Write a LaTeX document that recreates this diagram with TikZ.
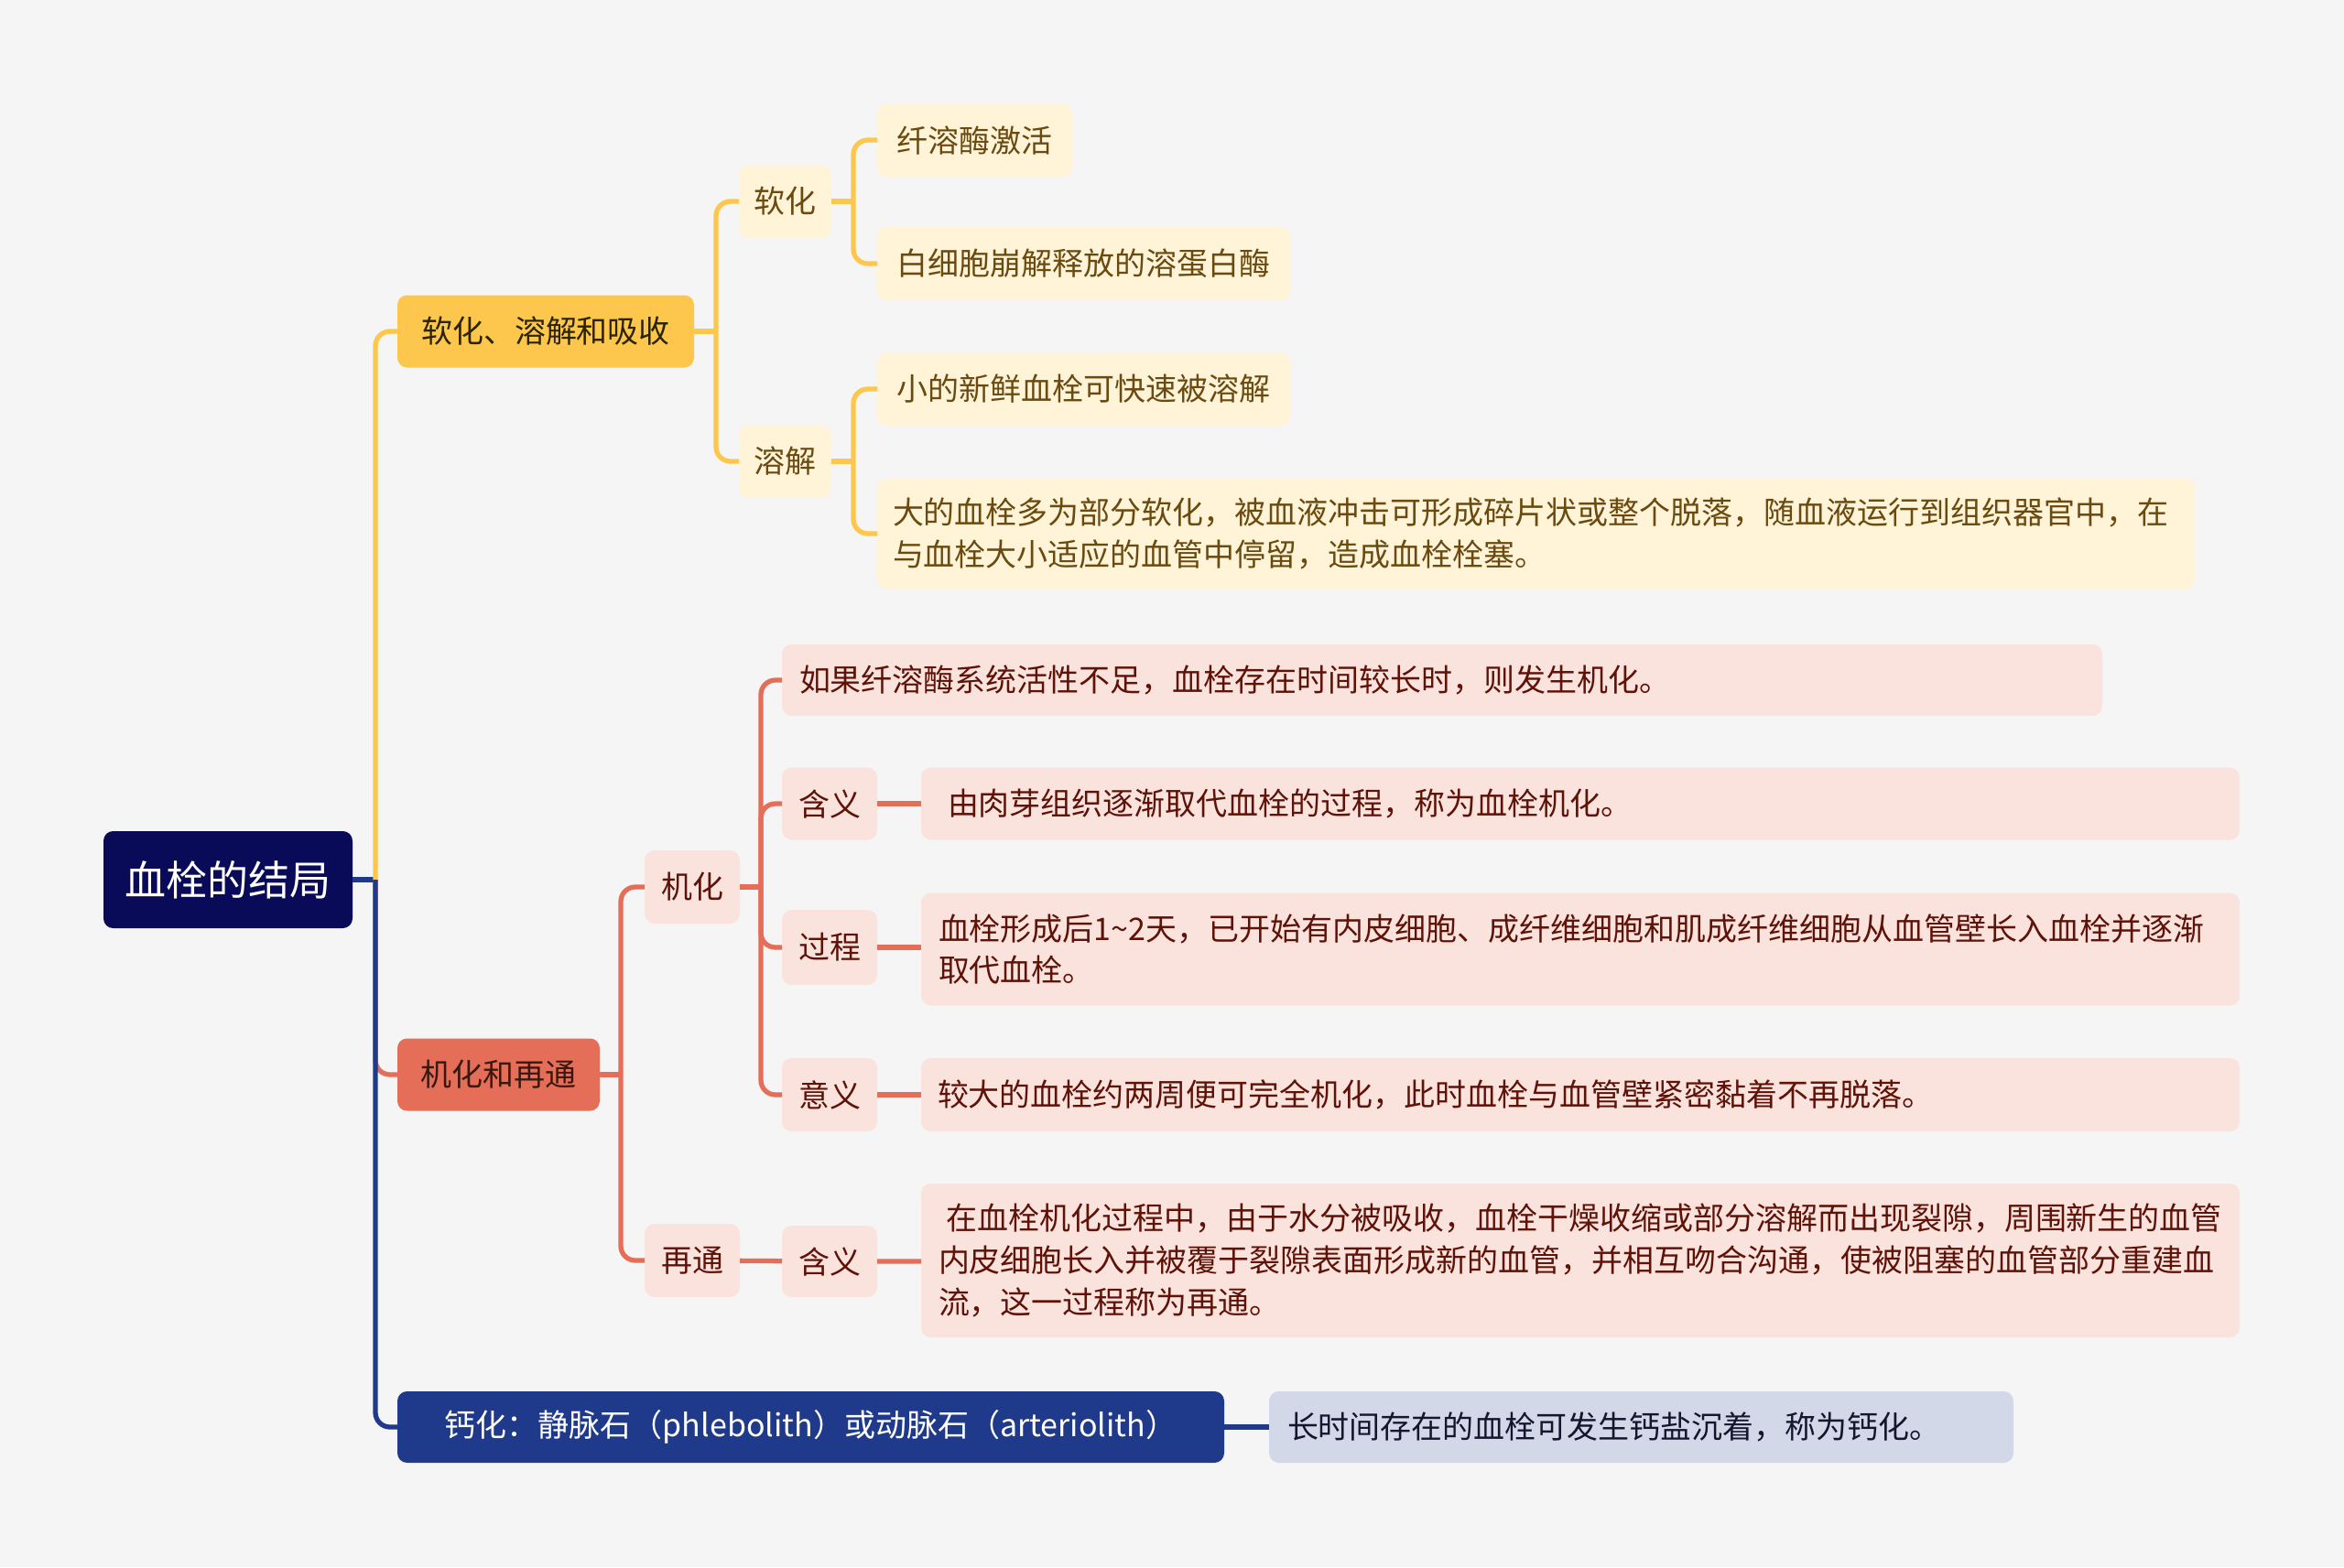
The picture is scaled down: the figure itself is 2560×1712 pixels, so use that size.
\documentclass[tikz,border=0pt]{standalone}
\usepackage{fontspec}
\setmainfont{Noto Sans CJK SC}

\definecolor{bgc}{HTML}{F5F5F5}
\definecolor{navy}{HTML}{0A0B58}
\definecolor{ylw}{HTML}{FCC74C}
\definecolor{ylwl}{HTML}{FFF3D8}
\definecolor{ylwt}{HTML}{6B4A10}
\definecolor{ylwd}{HTML}{2B2400}
\definecolor{sal}{HTML}{E46E58}
\definecolor{sall}{HTML}{FBE3DD}
\definecolor{salt}{HTML}{5E1208}
\definecolor{sald}{HTML}{3A1810}
\definecolor{blu}{HTML}{1F3A8A}
\definecolor{blul}{HTML}{D3D8E8}
\definecolor{blud}{HTML}{15152E}

\newcommand\mapfont{\fontsize{9.67pt}{13pt}\selectfont}
\newcommand\rootfont{\fontsize{12.8pt}{15pt}\selectfont}

\begin{document}
\begin{tikzpicture}[x=0.1mm,y=-0.1mm,
  every node/.style={anchor=west,outer sep=0pt,inner ysep=0pt,rounded corners=3pt,font=\mapfont},
  yA/.style={fill=ylw,text=ylwd,minimum height=7.9mm},
  yB/.style={fill=ylwl,text=ylwt,minimum height=7.9mm},
  rA/.style={fill=sal,text=sald,minimum height=7.9mm},
  rB/.style={fill=sall,text=salt,minimum height=7.9mm},
  bA/.style={fill=blu,text=white,minimum height=7.8mm},
  bB/.style={fill=blul,text=blud,minimum height=7.8mm},
  ln/.style={line width=1.5pt,rounded corners=4.5pt}]

  \fill[bgc] (0,0) rectangle (2560,1712);

  \node[fill=navy,text=white,font=\rootfont,minimum width=27.2mm,minimum height=10.6mm] (root) at (113,961) {血栓的结局};

  % first level
  \node[yA,minimum width=32.4mm] (soft) at (434,362) {软化、溶解和吸收};
  \node[rA,minimum width=22.1mm] (org) at (434,1174) {机化和再通};
  \node[bA,minimum width=90.3mm] (calc) at (434,1559) {钙化：静脉石（phlebolith）或动脉石（arteriolith）};

  % softening, dissolving
  \node[yB,minimum width=10.1mm] (rh) at (807,220) {软化};
  \node[yB,minimum width=10.1mm] (rj) at (807,504) {溶解};
  \node[yB,minimum width=21.3mm,minimum height=8mm] (rh1) at (958,153) {纤溶酶激活};
  \node[yB,minimum width=45.1mm,minimum height=8mm] (rh2) at (958,288) {白细胞崩解释放的溶蛋白酶};
  \node[yB,minimum width=45.1mm,minimum height=8mm] (rj1) at (958,425) {小的新鲜血栓可快速被溶解};
  \node[yB,text width=140.5mm,inner xsep=1.7mm,minimum height=12.1mm,align=left] (rj2) at (958,583)
    {大的血栓多为部分软化，被血液冲击可形成碎片状或整个脱落，随血液运行到组织器官中，在\\与血栓大小适应的血管中停留，造成血栓栓塞。};

  % organization, recanalization
  \node[rB,minimum width=10.4mm,minimum height=8mm] (jh) at (704,969) {机化};
  \node[rB,minimum width=10.4mm,minimum height=8mm] (zt) at (704,1377) {再通};
  \node[rB,text width=140.4mm,inner xsep=1.9mm,minimum height=7.8mm,align=left] (jh0) at (854,743)
    {如果纤溶酶系统活性不足，血栓存在时间较长时，则发生机化。};
  \node[rB,minimum width=10.4mm] (hy) at (854,878) {含义};
  \node[rB,minimum width=10.4mm,minimum height=8.2mm] (gc) at (854,1035) {过程};
  \node[rB,minimum width=10.4mm,minimum height=8mm] (yy) at (854,1196) {意义};
  \node[rB,minimum width=10.4mm,minimum height=7.8mm] (hy2) at (854,1378) {含义};
  \node[rB,text width=138.2mm,inner xsep=2.9mm,align=left] (hy1) at (1006,878)
    {由肉芽组织逐渐取代血栓的过程，称为血栓机化。};
  \node[rB,text width=140.2mm,inner xsep=1.9mm,minimum height=12.3mm,align=left] (gc1) at (1006,1037)
    {血栓形成后1\textasciitilde2天，已开始有内皮细胞、成纤维细胞和肌成纤维细胞从血管壁长入血栓并逐渐\\取代血栓。};
  \node[rB,text width=140.4mm,inner xsep=1.8mm,minimum height=8mm,align=left] (yy1) at (1006,1196)
    {较大的血栓约两周便可完全机化，此时血栓与血管壁紧密黏着不再脱落。};
  \node[rB,text width=140.2mm,inner xsep=1.9mm,minimum height=16.8mm,align=left] (hy3) at (1006,1377)
    {\hspace*{0.25em}在血栓机化过程中，由于水分被吸收，血栓干燥收缩或部分溶解而出现裂隙，周围新生的血管\\内皮细胞长入并被覆于裂隙表面形成新的血管，并相互吻合沟通，使被阻塞的血管部分重建血\\流，这一过程称为再通。};

  % calcification
  \node[bB,text width=77.3mm,inner xsep=2mm,align=left] (calc1) at (1386,1559) {长时间存在的血栓可发生钙盐沉着，称为钙化。};

  % connectors
  \draw[ln,blu] (root.east) -- ++(25,0) coordinate (j0);
  \draw[ln,ylw] (j0) |- (soft.west);
  \draw[ln,sal] (j0) |- (org.west);
  \draw[ln,blu] (j0) |- (calc.west);

  \draw[ln,ylw] (soft.east) -- ++(24,0) coordinate (j1);
  \draw[ln,ylw] (j1) |- (rh.west);
  \draw[ln,ylw] (j1) |- (rj.west);
  \draw[ln,ylw] (rh.east) -- ++(24,0) coordinate (j2);
  \draw[ln,ylw] (j2) |- (rh1.west);
  \draw[ln,ylw] (j2) |- (rh2.west);
  \draw[ln,ylw] (rj.east) -- ++(24,0) coordinate (j3);
  \draw[ln,ylw] (j3) |- (rj1.west);
  \draw[ln,ylw] (j3) |- (rj2.west);

  \draw[ln,sal] (org.east) -- ++(23,0) coordinate (j4);
  \draw[ln,sal] (j4) |- (jh.west);
  \draw[ln,sal] (j4) |- (zt.west);
  \draw[ln,sal] (jh.east) -- ++(23,0) coordinate (j5);
  \draw[ln,sal] (j5) |- (jh0.west);
  \draw[ln,sal] (j5) |- (hy.west);
  \draw[ln,sal] (j5) |- (gc.west);
  \draw[ln,sal] (j5) |- (yy.west);
  \draw[ln,sal] (hy) -- (hy1);
  \draw[ln,sal] (gc.east) -- (gc.east -| gc1.west);
  \draw[ln,sal] (yy) -- (yy1);
  \draw[ln,sal] (zt) -- (hy2);
  \draw[ln,sal] (hy2) -- (hy3);

  \draw[ln,blu] (calc) -- (calc1);
\end{tikzpicture}
\end{document}
